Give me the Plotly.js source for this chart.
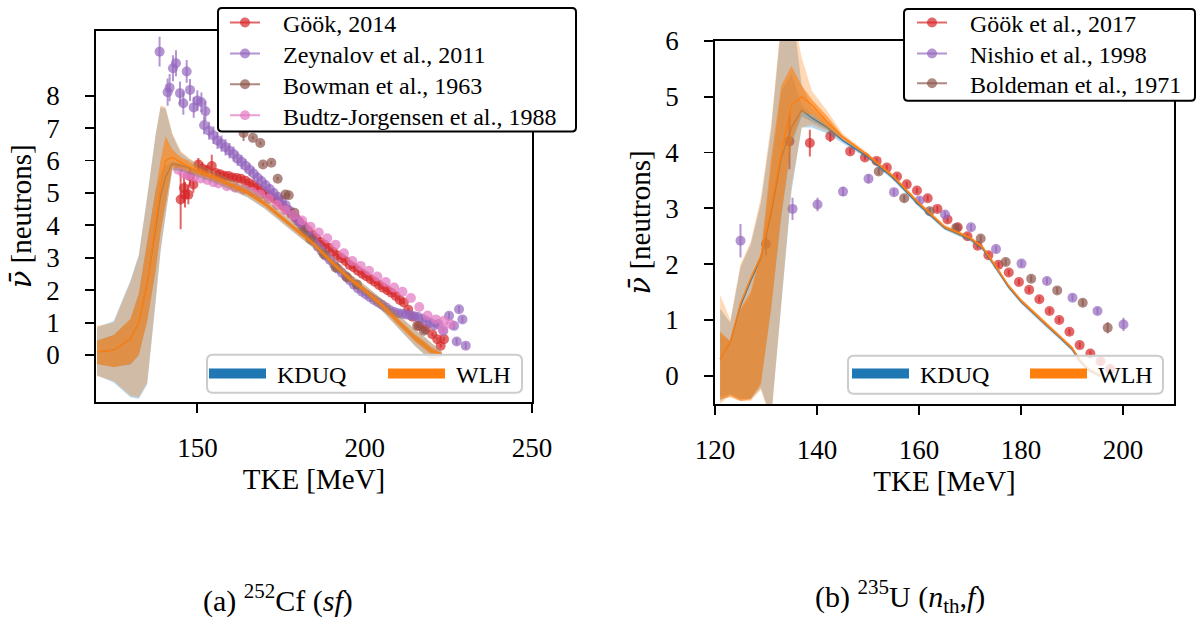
<!DOCTYPE html>
<html><head><meta charset="utf-8">
<script src="https://cdn.plot.ly/plotly-3.0.1.min.js"></script>
<style>html,body{margin:0;padding:0;background:#fff}#chart{width:1204px;height:622px}</style>
</head><body><div id="chart"></div>
<script>
// ---------- Panel (a): 252Cf (sf) ----------
const zeyX = [138.7,141.1,141.7,142.7,143.6,144.8,145.8,146.8,147.8,148.9,150.0,151.2,152.4,152.0,153.5,154.8,156.0,157.2,158.4,159.6,160.8,162.0,163.2,164.4,165.6,166.8,168.0,169.2,170.4,171.6,172.8,174.0,175.2,176.4,177.6,178.8,180.0,181.2,182.4,183.6,184.8,186.0,187.2,188.4,189.6,190.8,192.0,193.2,194.4,195.6,196.8,198.0,199.2,200.4,201.6,202.8,204.0,205.2,206.4,207.6,208.8,210.0,211.2,212.4,213.6,214.8,216.0,217.2,218.4,219.6,220.8,222.0,223.5,225.2,226.7,228.2,229.2,227.5,230.2];
const zeyY = [9.36,8.11,8.25,8.85,9.00,8.08,7.77,8.75,8.18,7.64,7.85,7.80,7.52,7.09,6.92,6.78,6.62,6.52,6.41,6.30,6.20,6.06,5.96,5.84,5.72,5.60,5.47,5.36,5.24,5.12,5.00,4.88,4.78,4.62,4.45,4.30,4.14,3.98,3.82,3.66,3.50,3.34,3.20,3.06,2.93,2.80,2.66,2.54,2.43,2.30,2.17,2.05,1.95,1.87,1.78,1.70,1.62,1.55,1.47,1.38,1.33,1.29,1.27,1.25,1.23,1.20,1.17,1.12,1.05,1.00,0.92,0.96,0.75,1.21,0.90,1.41,1.10,0.42,0.29];
const zeyE = [0.46,0.42,0.42,0.40,0.40,0.36,0.36,0.35,0.34,0.32,0.32,0.30,0.30,
  0.28,0.28,0.27,0.26,0.25,0.25,0.24,0.23,0.22,0.22,0.21,0.20,
  0.19,0.18,0.17,0.16,0.15,0.14,0.13,0.12,0.11,0.10,0.10,0.09,
  0.07,0.07,0.07,0.07,0.07,0.07,0.07,0.07,0.07,0.07,0.07,0.07,0.07,0.07,0.07,0.07,0.07,0.07,0.07,0.07,0.07,0.07,0.07,0.07,0.07,0.07,0.07,0.07,0.07,0.07,0.07,0.07,0.07,0.07,0.07,0.07,
  0.10,0.10,0.10,0.10,0.10,0.10,0.10];

const gook14X = [145.0,146.0,146.3,147.3,147.8,148.8,150.3,151.5,152.8,154.3,155.5,156.8,158.0,159.3,160.5,161.8,163.0,164.3,165.5,166.8,168.0,169.3,170.5,171.8,173.0,174.3,175.5,176.8,178.0,179.3,180.5,181.8,183.0,184.3,185.5,186.8,188.0,189.3,190.5,191.8,193.0,194.3,195.5,196.8,198.0,199.3,200.5,201.8,203.0,204.3,205.5,206.8,208.0,209.3,210.5,211.7,213.0,214.3,216.2,218.2,220.2,221.7,223.7,222.7];
const gook14Y = [4.80,5.15,4.95,4.95,5.52,5.26,5.88,5.75,5.70,5.83,5.62,5.58,5.53,5.52,5.48,5.46,5.44,5.38,5.30,5.24,5.16,5.08,4.98,4.90,4.82,4.72,4.60,4.48,4.36,4.24,4.11,3.98,3.85,3.72,3.60,3.49,3.40,3.31,3.19,3.08,2.99,2.90,2.78,2.70,2.60,2.51,2.43,2.34,2.26,2.16,2.08,2.00,1.92,1.82,1.70,1.62,1.40,1.18,0.90,0.80,0.64,0.49,0.49,0.29];
const gook14E = [0.92,0.45,0.40,0.30,0.30,0.25,0.20,0.20,0.15,0.35,
  0.08,0.08,0.08,0.08,0.08,0.07,0.07,0.07,0.07,0.07,0.06,0.06,0.06,0.06,0.06,0.06,0.06,0.06,0.06,0.06,
  0.06,0.06,0.06,0.06,0.06,0.06,0.06,0.06,0.06,0.06,0.06,0.06,0.06,0.06,0.06,0.06,0.06,0.06,0.06,0.06,
  0.06,0.06,0.06,0.06,0.06,0.06,0.06,0.06,0.06,0.06,0.06,0.06,0.06,0.06];

const budtzX = [144.3,145.8,147.2,149.0,151.0,153.0,154.8,156.3,158.8,161.3,163.8,166.3,168.8,171.3,173.8,176.3,178.8,181.3,183.8,186.3,188.8,191.3,193.8,196.3,198.8,201.3,203.8,206.3,208.8,211.3,213.8,216.3,218.8,221.3,223.7,225.7,223.2];
const budtzY = [5.72,5.60,5.55,5.50,5.45,5.40,5.33,5.29,5.21,5.16,5.11,5.04,4.95,4.82,4.63,4.47,4.32,4.15,3.96,3.78,3.60,3.40,3.14,2.90,2.75,2.60,2.42,2.25,2.08,1.95,1.76,1.48,1.22,1.10,1.06,0.95,0.80];

const bowmanX = [163.8,166.6,168.8,169.6,172.1,174.0,176.3,177.3,179.0,181.8,183.8,187.8,191.3,194.7,197.7,215.7,217.7];
const bowmanY = [6.85,6.70,6.54,5.88,5.93,5.44,4.95,4.93,4.39,3.82,3.57,3.11,2.70,2.39,2.18,0.90,0.75];
const bowmanE = [0.25,0.05,0.05,0.05,0.05,0.05,0.05,0.05,0.05,0.05,0.05,0.05,0.05,0.05,0.05,0.05,0.05];

// model bands, panel (a)
const tkeL   = [120, 125, 130, 132.5, 135, 137.5, 139, 140.5, 142.5, 145, 147.5, 150, 155, 160, 165, 170, 175, 180, 185, 190, 195, 200, 205, 210, 215, 218, 220, 223];
const kMeanL = [0.10,0.15,0.50,1.00,2.20,3.90,4.90,5.50,5.90,5.86,5.76,5.66,5.48,5.25,5.02,4.68,4.25,3.82,3.40,2.88,2.40,2.00,1.55,1.03,0.53,0.30,0.12,0.03];
const kHi2L  = [0.85,1.05,2.30,3.10,4.90,6.80,7.65,7.60,6.80,6.25,6.05,5.90,5.65,5.42,5.18,4.85,4.42,3.97,3.54,3.02,2.55,2.16,1.74,1.25,0.78,0.55,0.36,0.12];
const kLo2L  = [-0.62,-0.85,-1.30,-1.35,-0.90,1.60,3.20,4.35,5.70,5.68,5.60,5.50,5.32,5.09,4.86,4.52,4.09,3.68,3.27,2.74,2.27,1.86,1.38,0.82,0.28,0.00,-0.14,-0.06];
const kHi1L  = [0.45,0.62,1.10,1.90,3.50,5.10,5.60,5.85,5.96,5.92,5.82,5.72,5.53,5.31,5.07,4.74,4.31,3.87,3.45,2.94,2.46,2.06,1.62,1.11,0.62,0.40,0.22,0.07];
const kLo1L  = [-0.28,-0.36,-0.30,0.00,1.05,2.60,3.80,4.70,5.82,5.80,5.70,5.60,5.42,5.19,4.96,4.62,4.19,3.77,3.35,2.82,2.34,1.94,1.48,0.94,0.44,0.20,0.02,-0.01];
const wMeanL = [0.10,0.15,0.50,1.00,2.20,4.00,5.20,6.00,6.10,5.95,5.80,5.68,5.48,5.25,5.02,4.68,4.26,3.82,3.40,2.88,2.40,2.00,1.55,1.03,0.53,0.30,0.12,0.03];
const wHi2L  = [0.90,1.00,2.25,3.05,4.85,6.75,7.70,7.65,6.85,6.30,6.08,5.92,5.66,5.43,5.19,4.86,4.43,3.98,3.55,3.03,2.56,2.17,1.75,1.26,0.79,0.56,0.37,0.13];
const wLo2L  = [-0.65,-0.80,-1.25,-1.30,-0.85,1.65,3.25,4.40,5.72,5.70,5.62,5.52,5.33,5.10,4.87,4.53,4.10,3.69,3.28,2.75,2.28,1.87,1.39,0.83,0.29,0.01,-0.13,-0.05];
const wHi1L  = [0.44,0.62,1.12,1.90,3.50,5.10,6.00,6.75,6.35,6.10,5.98,5.80,5.56,5.33,5.09,4.76,4.33,3.89,3.47,2.96,2.48,2.08,1.64,1.13,0.64,0.42,0.24,0.08];
const wLo1L  = [-0.28,-0.38,-0.28,0.00,1.05,2.60,3.80,4.70,5.80,5.78,5.68,5.58,5.40,5.17,4.94,4.60,4.17,3.75,3.33,2.80,2.32,1.92,1.46,0.92,0.42,0.18,0.01,-0.02];

// ---------- Panel (b): 235U (n_th,f) ----------
const gook17X = [134.6,138.6,142.6,146.5,149.4,151.7,153.7,155.7,157.6,159.6,161.7,163.6,165.6,167.6,169.5,171.5,173.6,175.6,177.6,179.6,181.6,183.6,185.6,187.5,189.5,191.5,193.6,195.6,197.5];
const gook17Y = [4.20,4.17,4.29,4.02,3.91,3.85,3.73,3.57,3.43,3.32,3.18,2.99,2.80,2.66,2.50,2.33,2.16,1.99,1.85,1.68,1.54,1.37,1.16,1.00,0.79,0.55,0.40,0.26,0.12];
const gook17E = [0.50,0.24,0.10,0.05,0.05,0.05,0.05,0.05,0.05,0.05,0.05,0.05,0.05,0.05,0.05,0.05,0.05,0.05,0.05,0.05,0.05,0.05,0.05,0.05,0.05,0.05,0.05,0.05,0.05];

const nishioX = [125.0,135.2,140.1,145.1,150.1,155.1,160.1,165.1,170.2,175.1,180.1,185.1,190.1,195.0,200.1];
const nishioY = [2.42,2.99,3.07,3.30,3.53,3.29,3.14,2.89,2.66,2.27,2.01,1.70,1.40,1.16,0.92];
const nishioE = [0.30,0.20,0.12,0.08,0.08,0.06,0.06,0.06,0.06,0.06,0.06,0.06,0.06,0.06,0.12];

const boldX = [130.0,152.1,157.1,162.1,167.3,172.1,177.0,182.0,187.1,192.1,197.0];
const boldY = [2.36,3.66,3.18,2.95,2.65,2.46,2.04,1.74,1.53,1.31,0.86];
const boldE = [0.20,0.06,0.06,0.06,0.06,0.06,0.06,0.06,0.06,0.06,0.10];

const tkeR   = [121, 123, 125, 127, 129, 131, 133, 135, 137, 139, 142, 145, 150, 155, 160, 165, 170, 172.5, 175, 177.5, 180, 182.5, 185, 187.5, 190, 191.5, 193, 195.5];
const kMeanR = [0.30,0.60,1.25,1.70,2.10,2.90,3.90,4.45,4.76,4.62,4.45,4.22,3.92,3.54,3.06,2.65,2.45,2.28,1.95,1.60,1.33,1.12,0.90,0.70,0.48,0.27,0.12,0.00];
const kHi2R  = [1.20,0.95,1.95,2.35,3.10,4.40,6.30,6.70,5.20,4.80,4.55,4.27,3.96,3.58,3.10,2.69,2.49,2.32,1.99,1.64,1.37,1.16,0.94,0.74,0.52,0.31,0.16,0.03];
const kLo2R  = [-0.45,-0.33,-0.42,-0.42,-0.22,-0.75,1.20,3.30,4.45,4.45,4.34,4.17,3.88,3.50,3.02,2.61,2.41,2.24,1.91,1.56,1.29,1.08,0.86,0.66,0.44,0.23,0.08,-0.03];
const kHi1R  = [0.75,0.62,1.15,1.45,2.15,3.70,5.10,5.40,4.85,4.68,4.49,4.24,3.94,3.56,3.08,2.67,2.47,2.30,1.97,1.62,1.35,1.14,0.92,0.72,0.50,0.29,0.14,0.01];
const kLo1R  = [-0.38,-0.33,-0.42,-0.40,-0.12,1.20,2.85,4.15,4.65,4.56,4.41,4.20,3.90,3.52,3.04,2.63,2.43,2.26,1.93,1.58,1.31,1.10,0.88,0.68,0.46,0.25,0.10,-0.01];
const wMeanR = [0.30,0.62,1.30,1.75,2.15,3.00,4.00,4.85,5.00,4.85,4.55,4.28,3.95,3.57,3.09,2.67,2.47,2.30,1.97,1.62,1.35,1.14,0.92,0.72,0.50,0.29,0.13,0.00];
const wHi2R  = [1.45,1.00,2.00,2.40,3.20,4.50,6.40,6.60,5.70,5.10,4.75,4.34,3.99,3.61,3.13,2.71,2.51,2.34,2.01,1.66,1.39,1.18,0.96,0.76,0.54,0.33,0.17,0.03];
const wLo2R  = [-0.50,-0.35,-0.45,-0.45,-0.25,-0.80,1.30,3.40,4.45,4.50,4.38,4.22,3.91,3.53,3.05,2.63,2.43,2.26,1.93,1.58,1.31,1.10,0.88,0.68,0.46,0.25,0.09,-0.03];
const wHi1R  = [0.80,0.62,1.20,1.50,2.20,3.90,5.20,5.55,5.20,4.95,4.65,4.31,3.97,3.59,3.11,2.69,2.49,2.32,1.99,1.64,1.37,1.16,0.94,0.74,0.52,0.31,0.15,0.01];
const wLo1R  = [-0.42,-0.38,-0.45,-0.42,-0.15,1.22,2.90,4.20,4.72,4.68,4.45,4.25,3.93,3.55,3.07,2.65,2.45,2.28,1.95,1.60,1.33,1.12,0.90,0.70,0.48,0.27,0.11,-0.01];

// tick values
const xTicksL = [150, 200, 250];
const yTicksL = [0,1,2,3,4,5,6,7,8];
const xTicksR = [120, 140, 160, 180, 200];
const yTicksR = [0,1,2,3,4,5,6];

// legend labels
const legNamesL = ['Göök, 2014', 'Zeynalov et al., 2011', 'Bowman et al., 1963', 'Budtz-Jorgensen et al., 1988'];
const legNamesR = ['Göök et al., 2017', 'Nishio et al., 1998', 'Boldeman et al., 1971'];
const modelNames = ['KDUQ', 'WLH'];

// ---------- styling ----------
const W = 1204, H = 622;
const FONT = 'Liberation Serif';
const C = {red:[214,39,40], purple:[148,103,189], brown:[140,86,75], pink:[227,119,194], blue:[31,119,180], orange:[255,127,14]};
const rgba = (c, a) => `rgba(${c[0]},${c[1]},${c[2]},${a})`;
const PA = 0.7;
const NB = '\u00a0';

function pts(x, y, e, c, xa, ya) {
  const t = {type:'scatter', mode:'markers', x, y, xaxis:xa, yaxis:ya, showlegend:false, hoverinfo:'skip',
    marker:{size:10, color:rgba(c, PA), line:{width:0}}};
  if (e) t.error_y = {type:'data', array:e, visible:true, color:rgba(c, PA), thickness:2, width:0};
  return t;
}
function band(x, lo, hi, fill, xa, ya) {
  return {type:'scatter', mode:'lines', x:x.concat(x.slice().reverse()), y:hi.concat(lo.slice().reverse()),
    fill:'toself', fillcolor:fill, line:{width:0}, xaxis:xa, yaxis:ya, showlegend:false, hoverinfo:'skip'};
}
function meanLine(x, y, c, xa, ya) {
  return {type:'scatter', mode:'lines', x, y, line:{color:rgba(c,1), width:1.3}, xaxis:xa, yaxis:ya, showlegend:false, hoverinfo:'skip'};
}
function legPt(name, c, leg, xa, ya) {
  return {type:'scatter', mode:'lines+markers', x:[null], y:[null], name:NB+NB+NB+name, legend:leg, xaxis:xa, yaxis:ya,
    marker:{size:10, color:rgba(c, PA)}, line:{color:rgba(c, PA), width:2}};
}
function legBand(name, c, leg, xa, ya) {
  return {type:'scatter', mode:'lines', x:[null], y:[null], name:NB+name, legend:leg, xaxis:xa, yaxis:ya,
    line:{color:rgba(c,1), width:11}};
}

const traces = [
  // panel a
  pts(gook14X, gook14Y, gook14E, C.red, 'x', 'y'),
  pts(zeyX, zeyY, zeyE, C.purple, 'x', 'y'),
  pts(bowmanX, bowmanY, bowmanE, C.brown, 'x', 'y'),
  pts(budtzX, budtzY, null, C.pink, 'x', 'y'),
  band(tkeL, kLo2L, kHi2L, rgba(C.blue,0.3), 'x', 'y'),
  band(tkeL, kLo1L, kHi1L, rgba(C.blue,0.3), 'x', 'y'),
  meanLine(tkeL, kMeanL, C.blue, 'x', 'y'),
  band(tkeL, wLo2L, wHi2L, rgba(C.orange,0.3), 'x', 'y'),
  band(tkeL, wLo1L, wHi1L, rgba(C.orange,0.6), 'x', 'y'),
  meanLine(tkeL, wMeanL, C.orange, 'x', 'y'),
  // panel b
  pts(gook17X, gook17Y, gook17E, C.red, 'x2', 'y2'),
  pts(nishioX, nishioY, nishioE, C.purple, 'x2', 'y2'),
  pts(boldX, boldY, boldE, C.brown, 'x2', 'y2'),
  band(tkeR, kLo2R, kHi2R, rgba(C.blue,0.3), 'x2', 'y2'),
  band(tkeR, kLo1R, kHi1R, rgba(C.blue,0.3), 'x2', 'y2'),
  meanLine(tkeR, kMeanR, C.blue, 'x2', 'y2'),
  band(tkeR, wLo2R, wHi2R, rgba(C.orange,0.3), 'x2', 'y2'),
  band(tkeR, wLo1R, wHi1R, rgba(C.orange,0.6), 'x2', 'y2'),
  meanLine(tkeR, wMeanR, C.orange, 'x2', 'y2'),
  // legend entries (one legend per entry, framed by shapes)
  legPt(legNamesL[0], C.red, 'legend', 'x', 'y'),
  legPt(legNamesL[1], C.purple, 'legend2', 'x', 'y'),
  legPt(legNamesL[2], C.brown, 'legend3', 'x', 'y'),
  legPt(legNamesL[3], C.pink, 'legend4', 'x', 'y'),
  legBand(modelNames[0], C.blue, 'legend5', 'x', 'y'),
  legBand(modelNames[1], C.orange, 'legend6', 'x', 'y'),
  legPt(legNamesR[0], C.red, 'legend7', 'x2', 'y2'),
  legPt(legNamesR[1], C.purple, 'legend8', 'x2', 'y2'),
  legPt(legNamesR[2], C.brown, 'legend9', 'x2', 'y2'),
  legBand(modelNames[0], C.blue, 'legend10', 'x2', 'y2'),
  legBand(modelNames[1], C.orange, 'legend11', 'x2', 'y2'),
];

function rr(x0, y0, x1, y1, r) {
  const X = v => (v / W).toFixed(5), Y = v => (1 - v / H).toFixed(5);
  return `M${X(x0+r)},${Y(y0)} L${X(x1-r)},${Y(y0)} Q${X(x1)},${Y(y0)} ${X(x1)},${Y(y0+r)} ` +
         `L${X(x1)},${Y(y1-r)} Q${X(x1)},${Y(y1)} ${X(x1-r)},${Y(y1)} L${X(x0+r)},${Y(y1)} ` +
         `Q${X(x0)},${Y(y1)} ${X(x0)},${Y(y1-r)} L${X(x0)},${Y(y0+r)} Q${X(x0)},${Y(y0)} ${X(x0+r)},${Y(y0)} Z`;
}

const axBase = {showgrid:false, zeroline:false, ticks:'outside', ticklen:9, tickwidth:1.8, tickcolor:'black',
  showline:true, linecolor:'black', linewidth:1.8, mirror:true, tickfont:{family:FONT, size:27, color:'black'}};
const xTitle = {text:'TKE [MeV]', font:{family:FONT, size:29, color:'black'}, standoff:3};
const yTitle = {text:'<span style="font-family:DejaVu Serif;font-style:italic">ν̄</span>' + NB + '[neutrons]',
  font:{family:FONT, size:29, color:'black'}, standoff:6};

function leg(xpx, ypx, iw) {
  return {x:xpx/W, y:1-ypx/H, xanchor:'left', yanchor:'middle', bgcolor:'rgba(0,0,0,0)', borderwidth:0,
    font:{family:FONT, size:24, color:'black'}, itemwidth:iw};
}

const layout = {
  width:W, height:H, margin:{l:0, r:0, t:0, b:0}, paper_bgcolor:'white', plot_bgcolor:'white',
  font:{family:FONT, size:24, color:'black'}, showlegend:true,
  xaxis: Object.assign({}, axBase, {domain:[96/W, 532/W], range:[119.7, 250], tickvals:xTicksL, anchor:'y', title:xTitle, ticklabelstandoff:12}),
  yaxis: Object.assign({}, axBase, {domain:[1-401/H, 1-29/H], range:[-1.44, 10.0], tickvals:yTicksL, anchor:'x', title:yTitle, ticklabelstandoff:20}),
  xaxis2: Object.assign({}, axBase, {domain:[715/W, 1174/W], range:[120, 210], tickvals:xTicksR, anchor:'y2', title:xTitle, ticklabelstandoff:12}),
  yaxis2: Object.assign({}, axBase, {domain:[1-403.3/H, 1-39/H], range:[-0.505, 6], tickvals:yTicksR, anchor:'x2', title:yTitle, ticklabelstandoff:20}),
  legend:   leg(225, 21, 30),
  legend2:  leg(225, 52, 30),
  legend3:  leg(225, 83, 30),
  legend4:  leg(225, 114, 30),
  legend5:  leg(204, 373, 57),
  legend6:  leg(383, 373, 57),
  legend7:  leg(912, 21, 30),
  legend8:  leg(912, 52, 30),
  legend9:  leg(912, 82, 30),
  legend10: leg(847, 373, 57),
  legend11: leg(1025, 373, 57),
  shapes: [
    {type:'path', xref:'paper', yref:'paper', layer:'above', path:rr(218,6,576,130,4), fillcolor:'white', line:{color:'black', width:2}},
    {type:'path', xref:'paper', yref:'paper', layer:'above', path:rr(904,7,1195,99,4), fillcolor:'white', line:{color:'black', width:2}},
    {type:'path', xref:'paper', yref:'paper', layer:'above', path:rr(207,354,522,392,6), fillcolor:'rgba(255,255,255,0.8)', line:{color:'#cccccc', width:2}},
    {type:'path', xref:'paper', yref:'paper', layer:'above', path:rr(848,355,1163,393,6), fillcolor:'rgba(255,255,255,0.8)', line:{color:'#cccccc', width:2}},
  ],
  annotations: [
    {xref:'paper', yref:'paper', x:278/W, y:1-620/H, xanchor:'center', yanchor:'bottom', showarrow:false,
     text:'(a) <sup>252</sup>Cf (<i>sf</i>)', font:{family:FONT, size:30, color:'black'}},
    {xref:'paper', yref:'paper', x:900/W, y:1-620/H, xanchor:'center', yanchor:'bottom', showarrow:false,
     text:'(b) <sup>235</sup>U (<i>n</i><sub>th</sub>,<i>f</i>)', font:{family:FONT, size:30, color:'black'}},
  ],
};

Plotly.newPlot('chart', traces, layout, {displayModeBar:false, staticPlot:true});
</script></body></html>
